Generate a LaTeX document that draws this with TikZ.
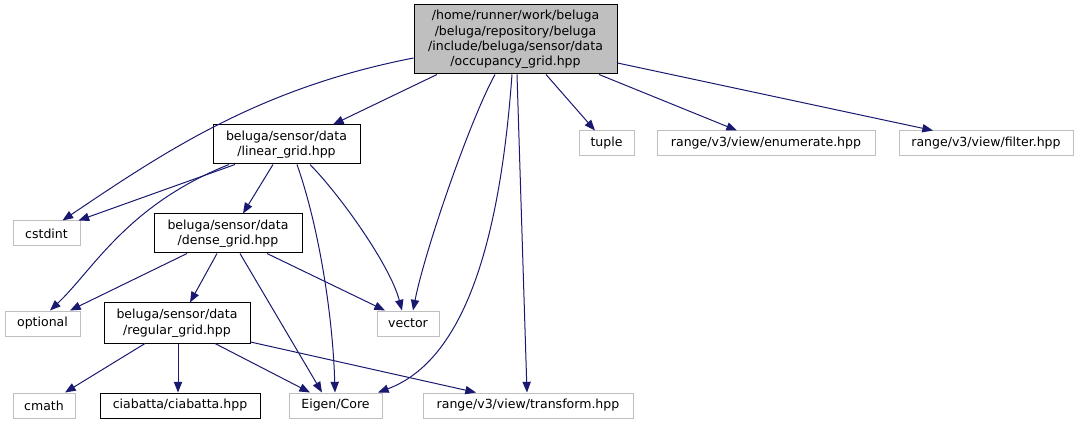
\documentclass[tikz,border=0pt]{standalone}
\usepackage{fontspec}
\setmainfont{DejaVu Sans}
\usetikzlibrary{arrows.meta}
\definecolor{edgeblue}{HTML}{191970}
\definecolor{boxgrey}{HTML}{BFBFBF}
\begin{document}
\begin{tikzpicture}[x=0.75pt,y=-0.75pt,
  font=\fontsize{9.4}{11.6}\selectfont,
  filebox/.style={draw=black, line width=0.75pt, fill=white, inner sep=0pt, align=center, minimum height=29.25pt},
  topbox/.style={draw=black, line width=0.75pt, fill=boxgrey, inner sep=0pt, align=center},
  extbox/.style={draw=boxgrey, line width=0.75pt, fill=white, inner sep=0pt, minimum height=18.75pt},
  dep/.style={draw=edgeblue, line width=0.75pt, -{Triangle[length=8pt,width=6.2pt]}}]
\useasboundingbox (0,0) rectangle (1079,424);

% nodes
\node[topbox, minimum width=152.25pt, minimum height=51.75pt] (top) at (515.5,39.5)
  {/home/runner/work/beluga\\/beluga/repository/beluga\\/include/beluga/sensor/data\\/occupancy\_grid.hpp};
\node[filebox, minimum width=110.25pt] (lin) at (286.5,144.5) {beluga/sensor/data\\/linear\_grid.hpp};
\node[filebox, minimum width=111pt] (dense) at (228,233.5) {beluga/sensor/data\\/dense\_grid.hpp};
\node[filebox, minimum width=109.5pt, minimum height=30pt] (reg) at (177,323) {beluga/sensor/data\\/regular\_grid.hpp};
\node[filebox, minimum width=120pt, minimum height=18.75pt] (ciab) at (180,405.5) {ciabatta/ciabatta.hpp};

\node[extbox, minimum width=50.25pt] (cstdint) at (46.5,233.5) {cstdint};
\node[extbox, minimum width=56.25pt] (optional) at (42.5,323.5) {optional};
\node[extbox, minimum width=46.5pt] (vector) at (408,323.5) {vector};
\node[extbox, minimum width=41.25pt] (tuple) at (606.5,143.5) {tuple};
\node[extbox, minimum width=163.5pt] (enum) at (766,143.5) {range/v3/view/enumerate.hpp};
\node[extbox, minimum width=130.5pt] (filter) at (986,143.5) {range/v3/view/filter.hpp};
\node[extbox, minimum width=46.5pt] (cmath) at (44,405.5) {cmath};
\node[extbox, minimum width=69.75pt] (eigen) at (335.5,405.5) {Eigen/Core};
\node[extbox, minimum width=157.5pt] (transform) at (528,405.5) {range/v3/view/transform.hpp};

% edges from top
\draw[dep] ([shift={(0,18.5)}]top.west) .. controls (260,88) and (167,150) .. ([shift={(16,0)}]cstdint.north);
\draw[dep] ([shift={(-78.5,0)}]top.south) -- ([shift={(46.5,0)}]lin.north);
\draw[dep] ([shift={(-20.5,0)}]top.south) .. controls (470,120) and (425,250) .. ([shift={(5,0)}]vector.north);
\draw[dep] ([shift={(-3.5,0)}]top.south) .. controls (500,240) and (465,360) .. ([shift={(42.5,0)}]eigen.north);
\draw[dep] ([shift={(1.5,0)}]top.south) -- ([shift={(-1,0)}]transform.north);
\draw[dep] ([shift={(30.5,0)}]top.south) -- ([shift={(-11.5,0)}]tuple.north);
\draw[dep] ([shift={(83.5,0)}]top.south) -- ([shift={(-29,0)}]enum.north);
\draw[dep] ([shift={(0,23.5)}]top.east) -- ([shift={(-53,0)}]filter.north);

% edges from linear_grid
\draw[dep] ([shift={(-51.5,0)}]lin.south) -- ([shift={(32,0)}]cstdint.north);
\draw[dep] ([shift={(-57.5,0)}]lin.south) .. controls (127,205) and (93,270) .. ([shift={(7.5,0)}]optional.north);
\draw[dep] ([shift={(-13.5,0)}]lin.south) -- ([shift={(15,0)}]dense.north);
\draw[dep] ([shift={(10.5,0)}]lin.south) .. controls (320,230) and (333,320) .. ([shift={(-0.5,0)}]eigen.north);
\draw[dep] ([shift={(23.5,0)}]lin.south) .. controls (340,195) and (390,265) .. ([shift={(-6,0)}]vector.north);

% edges from dense_grid
\draw[dep] ([shift={(-41,0)}]dense.south) -- ([shift={(27.5,0)}]optional.north);
\draw[dep] ([shift={(-11,0)}]dense.south) -- ([shift={(13,0)}]reg.north);
\draw[dep] ([shift={(12,0)}]dense.south) -- ([shift={(-13.5,0)}]eigen.north);
\draw[dep] ([shift={(39,0)}]dense.south) -- ([shift={(-23,0)}]vector.north);

% edges from regular_grid
\draw[dep] ([shift={(-32,0)}]reg.south) -- ([shift={(21,0)}]cmath.north);
\draw[dep] ([shift={(1,0)}]reg.south) -- ([shift={(-2,0)}]ciab.north);
\draw[dep] ([shift={(38,0)}]reg.south) -- ([shift={(-25.5,0)}]eigen.north);
\draw[dep] ([shift={(0,19)}]reg.east) -- ([shift={(-52,0)}]transform.north);
\end{tikzpicture}
\end{document}
